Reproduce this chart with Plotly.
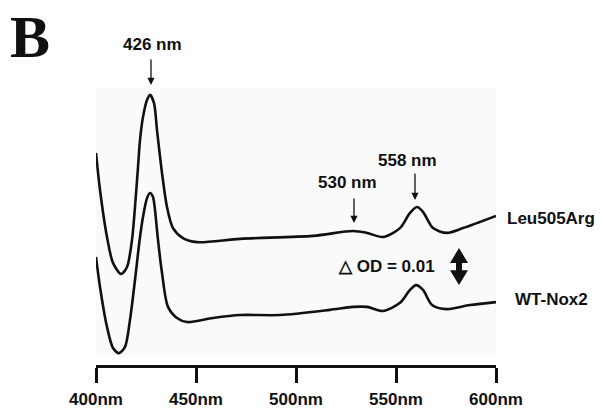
import plotly.graph_objects as go

# ---- data ----
wl_leu = [400, 402, 405.5, 408.5, 412.5, 415.5, 418, 419.5, 421, 422, 423.5, 425.5, 427,
          429, 430.5, 433, 435.5, 438.5, 443.5, 450.5, 472, 508.5, 528.5, 535.5, 543.5,
          552, 557, 560.5, 563.5, 568.5, 575.5, 583.5, 600]
od_leu = [0.0573, 0.0473, 0.0346, 0.0276, 0.0246, 0.0265, 0.0338, 0.0427, 0.0535, 0.0608,
          0.0670, 0.0716, 0.0730, 0.0708, 0.0635, 0.0519, 0.0427, 0.0370, 0.0343, 0.0332,
          0.0341, 0.0349, 0.0362, 0.0357, 0.0346, 0.0370, 0.0411, 0.0427, 0.0414, 0.0370,
          0.0357, 0.0370, 0.0403]

wl_wt = [400, 402, 405.5, 408.5, 411.5, 414.5, 417, 419.5, 422, 423.5, 425.5, 427, 428.5,
         429.5, 431, 433, 436, 440.5, 445.5, 458.5, 472, 492, 517, 528.5, 535.5, 543.5,
         552, 557, 560, 563.5, 568, 575.5, 587, 600]
od_wt = [0.0292, 0.0211, 0.0103, 0.0046, 0.0032, 0.0049, 0.0122, 0.0230, 0.0346, 0.0400,
         0.0451, 0.0465, 0.0454, 0.0419, 0.0338, 0.0249, 0.0157, 0.0127, 0.0116, 0.0127,
         0.0135, 0.0135, 0.0149, 0.0157, 0.0157, 0.0146, 0.0168, 0.0203, 0.0216, 0.0203,
         0.0162, 0.0151, 0.0162, 0.0170]

tick_vals = [400, 450, 500, 550, 600]
tick_text = ["400nm", "450nm", "500nm", "550nm", "600nm"]
series_names = ["Leu505Arg", "WT-Nox2"]
peak_labels = ["426 nm", "530 nm", "558 nm"]
delta_od = 0.01

FONT = "Liberation Sans, Arial, sans-serif"
INK = "#111111"

fig = go.Figure()
for wl, od, name in [(wl_leu, od_leu, series_names[0]), (wl_wt, od_wt, series_names[1])]:
    fig.add_trace(go.Scatter(x=wl, y=od, mode="lines", name=name,
                             line=dict(color=INK, width=2.6, shape="spline", smoothing=0.8),
                             hoverinfo="skip", showlegend=False))

ann = []
# panel letter
ann.append(dict(xref="paper", yref="paper", x=-0.22, y=1.036, text="<b>B</b>",
                showarrow=False, font=dict(family="Liberation Serif, Times New Roman, serif",
                                           size=60, color=INK)))
# peak arrows (tip at curve, tail above)
for x, y, ay in [(427.5, 0.0757, -27), (529, 0.0384, -26), (559.5, 0.0446, -28)]:
    ann.append(dict(x=x, y=y, xref="x", yref="y", text="", showarrow=True, ax=0, ay=ay,
                    arrowhead=2, arrowsize=1.1, arrowwidth=1.3, arrowcolor=INK))
# peak labels
for (x, y), t in zip([(428, 0.0865), (525.5, 0.0492), (555.5, 0.0554)], peak_labels):
    ann.append(dict(x=x, y=y, xref="x", yref="y", text="<b>%s</b>" % t, showarrow=False,
                    font=dict(family=FONT, size=17, color=INK)))
# series labels
for (x, y), t in zip([(1.0225, 0.0397), (1.0425, 0.0176)], series_names):
    ann.append(dict(x=x, y=y, xref="paper", yref="y", text="<b>%s</b>" % t, showarrow=False,
                    xanchor="left", font=dict(family=FONT, size=17, color=INK)))
# delta OD label
ann.append(dict(x=545, y=0.0265, xref="x", yref="y", text="<b>\u25b3 OD = %.2f</b>" % delta_od,
                showarrow=False, font=dict(family=FONT, size=17, color=INK)))

# double arrow for the OD scale
cx, y0 = 581.5, 0.0216
y1 = y0 + delta_od
hw, sw = 4.5, 1.5
yb1 = y1 - 0.0040
yb2 = y0 + 0.0040
path = (f"M {cx},{y1} L {cx+hw},{yb1} L {cx+sw},{yb1} L {cx+sw},{yb2} L {cx+hw},{yb2} "
        f"L {cx},{y0} L {cx-hw},{yb2} L {cx-sw},{yb2} L {cx-sw},{yb1} L {cx-hw},{yb1} Z")

shapes = [
    dict(type="rect", xref="x", yref="y", x0=399, x1=600.5, y0=0.0027, y1=0.0749,
         fillcolor="#fafafa", line=dict(width=0), layer="below"),
    dict(type="path", xref="x", yref="y", path=path, fillcolor=INK, line=dict(width=0)),
]

fig.update_layout(
    width=603, height=415,
    margin=dict(l=96, r=107, t=15, b=50, autoexpand=False),
    paper_bgcolor="white", plot_bgcolor="white",
    annotations=ann, shapes=shapes,
    xaxis=dict(range=[400, 600], showgrid=False, zeroline=False, automargin=False,
               showline=True, linewidth=2.5, linecolor=INK,
               ticks="outside", ticklen=15, tickwidth=2.5, tickcolor=INK,
               tickvals=tick_vals, ticktext=["<b>%s</b>" % t for t in tick_text],
               tickfont=dict(family=FONT, size=17, color=INK), ticklabelstandoff=2),
    yaxis=dict(range=[0, 350 / 3700], visible=False, automargin=False),
)

fig.write_html("out.html")
